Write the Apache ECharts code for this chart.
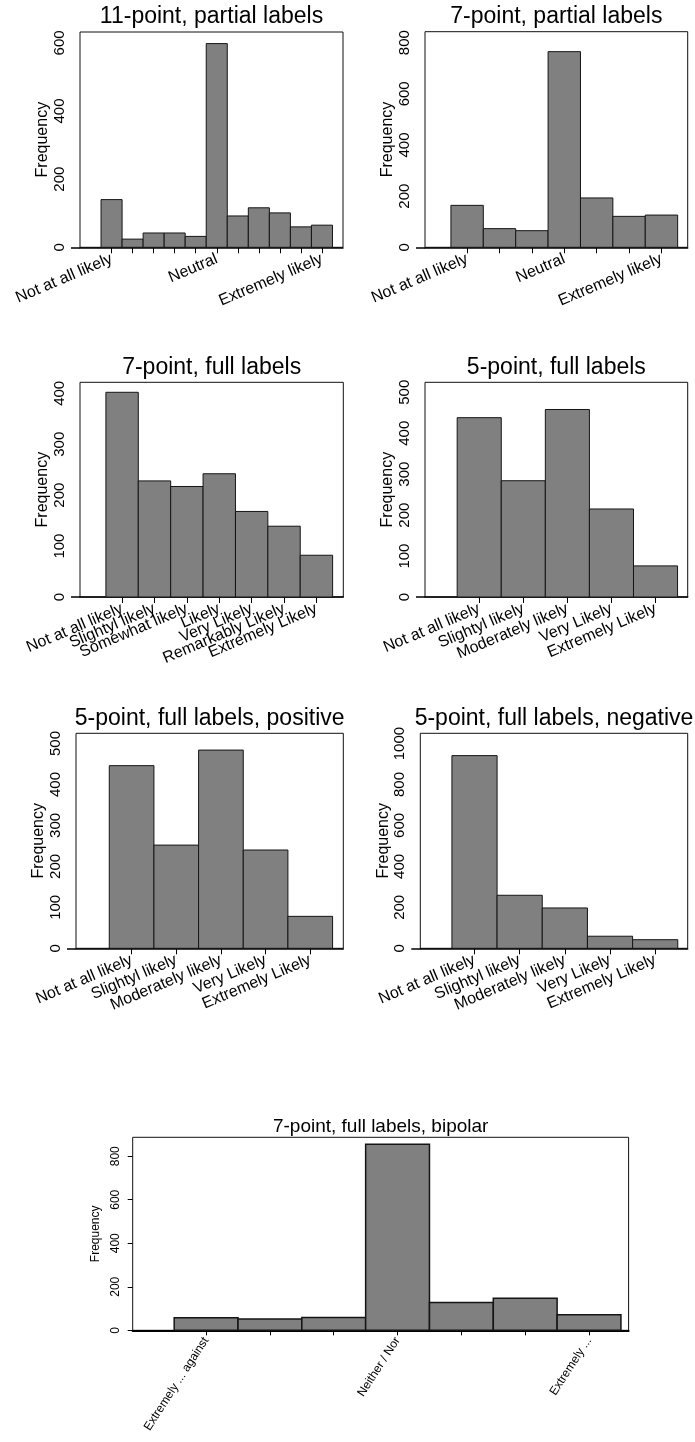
<!DOCTYPE html>
<html>
<head>
<meta charset="utf-8">
<script src="https://cdn.jsdelivr.net/npm/echarts@6/dist/echarts.min.js"></script>
<style>
html,body{margin:0;padding:0;background:#fff;}
#chart{width:695px;height:1442px;}
</style>
</head>
<body>
<div id="chart"></div>
<script>
// ---------- data ----------
const cats11 = ['Not at all likely', '', '', '', '', 'Neutral', '', '', '', '', 'Extremely likely'];
const freq11 = [140, 24, 42, 42, 32, 598, 92, 116, 101, 60, 65];
const yTicks11 = [0, 200, 400, 600];

const cats7p = ['Not at all likely', '', '', 'Neutral', '', '', 'Extremely likely'];
const freq7p = [164, 73, 65, 765, 193, 121, 126];
const yTicks7p = [0, 200, 400, 600, 800];

const cats7f = ['Not at all likely', 'Slightyl likely', 'Somewhat likely', 'Likely', 'Very Likely', 'Remarkably Likely', 'Extremely Likely'];
const freq7f = [402, 228, 217, 242, 168, 139, 82];
const yTicks7f = [0, 100, 200, 300, 400];

const cats5f = ['Not at all likely', 'Slightyl likely', 'Moderately likely', 'Very Likely', 'Extremely Likely'];
const freq5f = [438, 284, 458, 215, 76];
const yTicks5f = [0, 100, 200, 300, 400, 500];

const cats5pos = ['Not at all likely', 'Slightyl likely', 'Moderately likely', 'Very Likely', 'Extremely Likely'];
const freq5pos = [446, 252, 484, 240, 78];
const yTicks5pos = [0, 100, 200, 300, 400, 500];

const cats5neg = ['Not at all likely', 'Slightyl likely', 'Moderately likely', 'Very Likely', 'Extremely Likely'];
const freq5neg = [941, 259, 197, 59, 42];
const yTicks5neg = [0, 200, 400, 600, 800, 1000];

const cats7bi = ['Extremely ... against', '', '', 'Neither / Nor', '', '', 'Extremely ...'];
const freq7bi = [58, 52, 59, 855, 128, 147, 72];
const yTicks7bi = [0, 200, 400, 600, 800];

const titles = ['11-point, partial labels', '7-point, partial labels', '7-point, full labels', '5-point, full labels',
  '5-point, full labels, positive', '5-point, full labels, negative', '7-point, full labels, bipolar'];

// ---------- layout ----------
const panels = [
  {cats: cats11, freq: freq11, ticks: yTicks11, left: 80, top: 32, width: 263, height: 215.3, xmin: -1.5, xmax: 11, ymax: 632, titleY: 16.7},
  {cats: cats7p, freq: freq7p, ticks: yTicks7p, left: 425, top: 31.7, width: 262.7, height: 215.6, xmin: -1.3, xmax: 6.81, ymax: 843, titleY: 16.7},
  {cats: cats7f, freq: freq7f, ticks: yTicks7f, left: 80, top: 382.3, width: 263.3, height: 214.7, xmin: -1.3, xmax: 6.83, ymax: 421.6, titleY: 367.2},
  {cats: cats5f, freq: freq5f, ticks: yTicks5f, left: 425, top: 382.3, width: 262.7, height: 214.7, xmin: -1.23, xmax: 4.73, ymax: 524.4, titleY: 367.2},
  {cats: cats5pos, freq: freq5pos, ticks: yTicks5pos, left: 76, top: 733.3, width: 267.3, height: 215, xmin: -1.245, xmax: 4.74, ymax: 525, titleY: 718.5},
  {cats: cats5neg, freq: freq5neg, ticks: yTicks5neg, left: 420.3, top: 733.3, width: 267.4, height: 215, xmin: -1.2, xmax: 4.72, ymax: 1050, titleY: 718.5},
  {cats: cats7bi, freq: freq7bi, ticks: yTicks7bi, left: 132.7, top: 1137.3, width: 495.9, height: 193, xmin: -1.15, xmax: 6.62, ymax: 887, titleY: 1126.7, small: true}
];

const FONT = 'Liberation Sans, Arial, Helvetica, sans-serif';
const grid = [], xAxis = [], yAxis = [], series = [], title = [];

panels.forEach((p, k) => {
  const small = !!p.small;
  grid.push({left: p.left, top: p.top, width: p.width, height: p.height, show: true,
    borderColor: '#111', borderWidth: 1, backgroundColor: 'transparent', containLabel: false});
  const idx = p.cats.map((_, i) => i);
  const labelIdx = idx.filter(i => p.cats[i] !== '');
  const labelStyle = {
    show: true, rotate: small ? 57 : 23, margin: small ? 8 : 11,
    hideOverlap: false, showMinLabel: true, showMaxLabel: true,
    color: '#000', fontFamily: FONT, fontSize: small ? 12 : 16,
    formatter: v => p.cats[Math.round(v)] || ''
  };
  // main axis: line, ticks, even-position labels
  xAxis.push({
    type: 'value', gridIndex: k, position: 'bottom', offset: 0, min: p.xmin, max: p.xmax,
    splitLine: {show: false},
    axisLine: {show: true, onZero: false, lineStyle: {color: '#000', width: small ? 2 : 1.5}},
    axisTick: {show: true, customValues: idx, length: small ? 5 : 6, lineStyle: {color: '#000', width: 1}},
    axisLabel: Object.assign({}, labelStyle, {customValues: labelIdx.filter((_, j) => j % 2 === 0)})
  });
  // companion axis: odd-position labels only (keeps crowded labels from being dropped)
  const odd = labelIdx.filter((_, j) => j % 2 === 1);
  xAxis.push({
    type: 'value', gridIndex: k, position: 'bottom', offset: 0, min: p.xmin, max: p.xmax,
    splitLine: {show: false},
    axisLine: {show: false, onZero: false},
    axisTick: {show: false},
    axisLabel: Object.assign({}, labelStyle, {show: odd.length > 0, customValues: odd.length ? odd : [0]})
  });
  yAxis.push({
    type: 'value', gridIndex: k, min: 0, max: p.ymax,
    name: 'Frequency', nameLocation: 'middle', nameGap: small ? 26 : 29,
    nameTextStyle: {color: '#000', fontFamily: FONT, fontSize: small ? 12 : 16},
    splitLine: {show: false},
    axisLine: {show: false, onZero: false},
    axisTick: {show: true, customValues: small ? p.ticks : [0], length: small ? 5 : 9, lineStyle: {color: '#000', width: small ? 1 : 1.5}},
    axisLabel: {show: true, customValues: p.ticks, rotate: 90, margin: small ? 11 : 13,
      hideOverlap: false, showMinLabel: true, showMaxLabel: true,
      color: '#000', fontFamily: FONT, fontSize: small ? 12 : 15,
      formatter: v => String(v)}
  });
  series.push({
    type: 'custom', xAxisIndex: 2 * k, yAxisIndex: k,
    data: p.freq.map((v, i) => [i, v]),
    renderItem: (params, api) => {
      const x = api.value(0), v = api.value(1);
      const a = api.coord([x - 0.5, v]);
      const b = api.coord([x + 0.5, 0]);
      return {type: 'rect', shape: {x: a[0], y: a[1], width: b[0] - a[0], height: b[1] - a[1]},
        style: {fill: '#808080', stroke: '#151515', lineWidth: small ? 1.5 : 1}};
    }
  });
  title.push({
    text: titles[k], left: p.left + p.width / 2, top: p.titleY, textAlign: 'center', textVerticalAlign: 'middle',
    padding: 0,
    textStyle: {color: '#000', fontFamily: FONT, fontWeight: 'normal', fontSize: small ? 19 : 23}
  });
});

const chart = echarts.init(document.getElementById('chart'), null, {renderer: 'canvas'});
chart.setOption({
  animation: false,
  backgroundColor: '#fff',
  title, grid, xAxis, yAxis, series
});
</script>
</body>
</html>
